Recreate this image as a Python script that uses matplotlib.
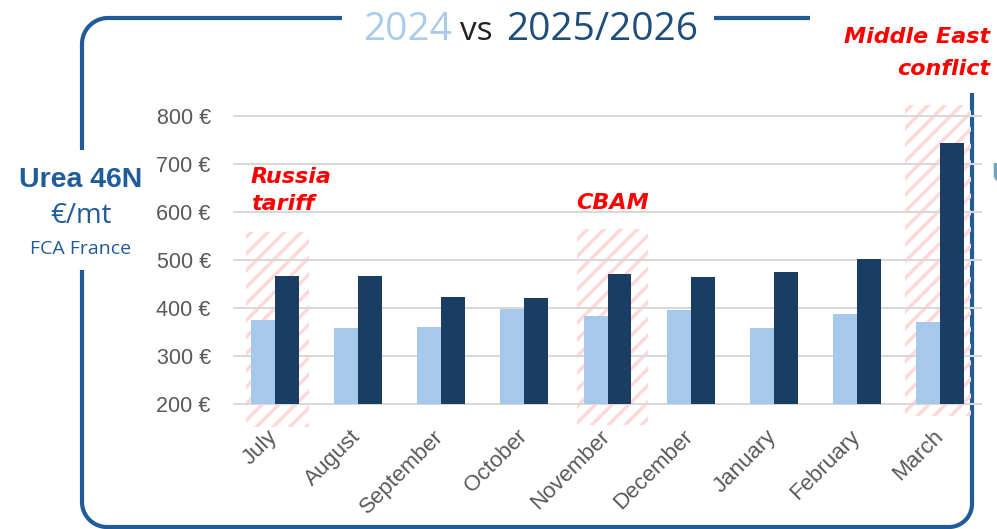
import matplotlib
matplotlib.use("Agg")
import matplotlib.pyplot as plt
from matplotlib.patches import Rectangle
from matplotlib.transforms import ScaledTranslation
import numpy as np

# data (EUR per metric tonne)
months = ["July", "August", "September", "October", "November",
          "December", "January", "February", "March"]
prices_2024 = [375, 358, 360, 397, 384, 395, 358, 387, 371]
prices_2025 = [467, 467, 422, 421, 471, 464, 475, 502, 743]
yticks = [200, 300, 400, 500, 600, 700, 800]

# highlighted months (event markers)
hl_index = [0, 4, 8]
hl_left = [-0.34, -0.37, -0.42]
hl_right = [0.41, 0.49, 0.37]
hl_bottom = [152, 156, 175]
hl_top = [558, 565, 823]

LIGHT = "#A6C8EA"
DARK = "#1A3D63"
FRAME = "#1F5C99"
GREY = "#595959"
PINK = "#FFD9D9"

plt.rcParams["hatch.linewidth"] = 2.5

fig = plt.figure(figsize=(9.97, 5.29), dpi=100)

# background layer in pixel coordinates for frame and free text
bg = fig.add_axes([0, 0, 1, 1], zorder=0)
bg.set_xlim(0, 997)
bg.set_ylim(529, 0)
bg.axis("off")


def arc(cx, cy, r, a0, a1):
    t = np.radians(np.linspace(a0, a1, 30))
    return cx + r * np.cos(t), cy + r * np.sin(t)


def frame_piece(xs, ys):
    bg.plot(xs, ys, color=FRAME, lw=3.0, solid_capstyle="butt")


# top-left piece
ax_, ay_ = arc(108, 44, 26, 270, 180)
frame_piece(np.r_[342, ax_, 82], np.r_[18, ay_, 150])
# lower left, bottom, right
bx1, by1 = arc(107, 502, 25, 180, 90)
bx2, by2 = arc(949, 504, 23, 90, 0)
frame_piece(np.r_[82, bx1, bx2, 972], np.r_[270, by1, by2, 93])
# top-right piece
frame_piece([714, 810], [18, 18])

# title
bg.text(363, 40, "2024", color="#A9CCEC", fontsize=28, family="Open Sans", va="baseline")
bg.text(460, 40, "vs", color="#222222", fontsize=24, family="Open Sans", va="baseline")
bg.text(506, 40, "2025/2026", color="#1F4E7A", fontsize=28, family="Open Sans", va="baseline")

# left side label
bg.text(81, 180, "Urea 46N", color=FRAME, fontsize=20.5, fontweight="bold",
        family="Liberation Sans", ha="center", va="center")
bg.text(81, 216, "€/mt", color=FRAME, fontsize=20, family="Open Sans", ha="center", va="center")
bg.text(81, 249, "FCA France", color=FRAME, fontsize=14, family="Open Sans",
        ha="center", va="center")
bg.text(991, 182, "U", color="#6AA6C0", fontsize=20.5, fontweight="bold",
        family="Liberation Sans", ha="left", va="baseline")

# event annotations
note = dict(color="red", fontsize=16, fontweight="bold", style="italic",
            family="DejaVu Sans", va="baseline")
bg.text(251, 183, "Russia", ha="left", **note)
bg.text(251, 210, "tariff", ha="left", **note)
bg.text(576, 209, "CBAM", ha="left", **note)
bg.text(990, 43, "Middle East", ha="right", **note)
bg.text(990, 75, "conflict", ha="right", **note)

# main chart
ax = fig.add_axes([233 / 997, 1 - 404.96 / 529, 749 / 997, 289.92 / 529], zorder=1)
ax.patch.set_alpha(0)
x = np.arange(len(months))
w = 0.288

for i, lo, hi, b, t in zip(hl_index, hl_left, hl_right, hl_bottom, hl_top):
    ax.add_patch(Rectangle((i + lo, b), hi - lo, t - b, facecolor="none",
                           edgecolor=PINK, lw=0, hatch="//", clip_on=False, zorder=0.2))

ax.bar(x - w / 2, np.array(prices_2024) - 200, w, bottom=200, color=LIGHT, zorder=2)
ax.bar(x + w / 2, np.array(prices_2025) - 200, w, bottom=200, color=DARK, zorder=2)

ax.set_xlim(-0.5, len(months) - 0.5)
ax.set_ylim(198, 802)
ax.set_yticks(yticks)
ax.set_yticklabels([f"{v} €" for v in yticks], fontsize=15.5, color=GREY, family="Liberation Sans")
ax.set_xticks(x)
ax.set_xticklabels(months, rotation=45, ha="right", va="top",
                   fontsize=16, color=GREY, family="Liberation Sans")
ax.tick_params(axis="y", length=0, pad=16)
ax.tick_params(axis="x", length=0, pad=15)
shift = ScaledTranslation(7 / 100, 0, fig.dpi_scale_trans)
for lab in ax.get_xticklabels():
    lab.set_transform(lab.get_transform() + shift)

ax.yaxis.grid(True, color="#D9D9D9", lw=1.5)
ax.set_axisbelow(True)
for s in ax.spines.values():
    s.set_visible(False)

fig.savefig("out.png", dpi=100)
